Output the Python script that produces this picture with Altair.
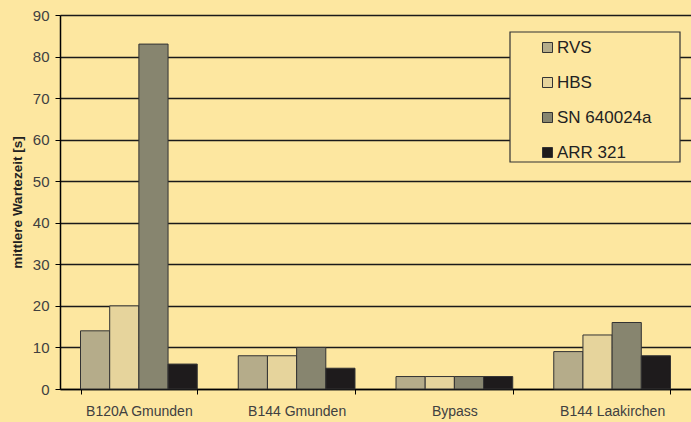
import altair as alt
import pandas as pd

categories = ["B120A Gmunden", "B144 Gmunden", "Bypass", "B144 Laakirchen"]
series = ["RVS", "HBS", "SN 640024a", "ARR 321"]
rvs = [14, 8, 3, 9]
hbs = [20, 8, 3, 13]
sn = [83, 10, 3, 16]
arr = [6, 5, 3, 8]
colors = ["#B5AC8A", "#E6D49C", "#87856F", "#1E1B1C"]

rows = []
for vals, s in zip([rvs, hbs, sn, arr], series):
    for c, v in zip(categories, vals):
        rows.append({"Ort": c, "Verfahren": s, "Wert": v})
df = pd.DataFrame(rows)

bg = "#FDE7A0"

bars = alt.Chart(df).mark_bar(stroke="#333333", strokeWidth=1).encode(
    x=alt.X("Ort:N", sort=categories,
            scale=alt.Scale(paddingInner=0.26, paddingOuter=0.13),
            axis=alt.Axis(title=None, labelAngle=0, labelFontSize=14, labelColor="#404040",
                          labelFont="Liberation Sans", labelPadding=10, tickBand="extent",
                          tickSize=5, tickColor="#000000", domainColor="#000000",
                          domainWidth=1.5)),
    xOffset=alt.XOffset("Verfahren:N", sort=series),
    y=alt.Y("Wert:Q", scale=alt.Scale(domain=[0, 90]),
            axis=alt.Axis(title="mittlere Wartezeit [s]", titleFont="Liberation Sans",
                          titleFontSize=13.5, titleFontWeight="bold", titleColor="#222222",
                          titlePadding=8, values=list(range(0, 91, 10)),
                          labelFontSize=15, labelColor="#404040", labelFont="Liberation Sans",
                          labelPadding=6, tickSize=5, tickColor="#000000",
                          domainColor="#000000", domainWidth=1.5,
                          gridColor="#1a1a1a", gridWidth=1.5)),
    color=alt.Color("Verfahren:N", sort=series,
                    scale=alt.Scale(domain=series, range=colors),
                    legend=alt.Legend(title=None, orient="none", legendX=450, legendY=17,
                                      symbolType="square", symbolSize=100,
                                      symbolStrokeColor="#333333", symbolStrokeWidth=1,
                                      labelFontSize=17, labelFont="Liberation Sans",
                                      labelColor="#222222", rowPadding=17,
                                      padding=7, labelOffset=1,
                                      symbolOffset=22)),
)

frame = alt.Chart(pd.DataFrame({"k": [0]})).mark_rect(
    fill=bg, stroke="#333333", strokeWidth=1.2
).encode(
    x=alt.value(450), x2=alt.value(620), y=alt.value(17), y2=alt.value(147)
)

chart = alt.layer(bars, frame).properties(
    width=631, height=374,
    autosize=alt.AutoSizeParams(type="none"),
    padding={"left": 60, "top": 15, "right": 0, "bottom": 33},
    background=bg,
).configure_view(stroke=None)

chart.save("out.html", embed_options={"renderer": "svg", "actions": False})
